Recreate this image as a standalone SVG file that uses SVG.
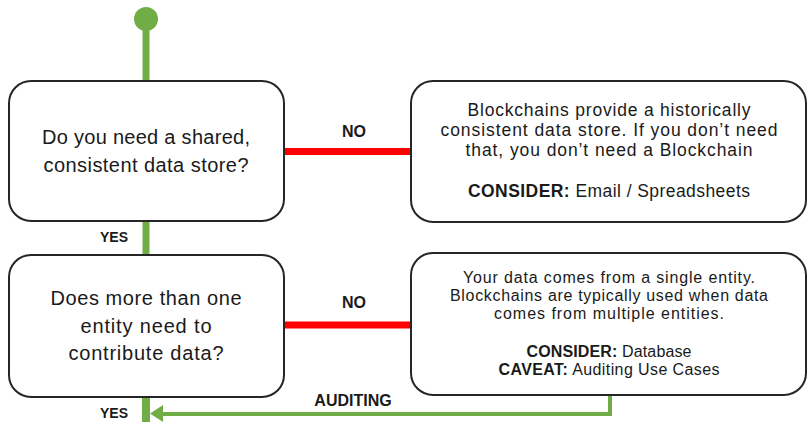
<svg xmlns="http://www.w3.org/2000/svg" width="807" height="422" viewBox="0 0 807 422">
<style>
text{font-family:"Liberation Sans",Arial,sans-serif;fill:#1a1a1a;text-anchor:middle}
.box{fill:#fff;stroke:#262626;stroke-width:2}
.q{font-size:20px}
.a1{font-size:17.5px}
.a2{font-size:16px}
.lbl{font-size:16px;font-weight:bold}
.b{font-weight:bold}
.g{stroke:#70AD47;fill:none}
.r{stroke:#FF0000;stroke-width:7;fill:none}
</style>
<g id="connectors">
<circle cx="146" cy="19" r="12" fill="#70AD47"/>
<line class="g" x1="146" y1="19" x2="146" y2="82" stroke-width="7"/>
<line class="g" x1="146" y1="220" x2="146" y2="256" stroke-width="7"/>
<line class="g" x1="146" y1="396" x2="146" y2="422" stroke-width="8"/>
<path class="g" d="M610,395 V414 H162" stroke-width="4"/>
<path d="M150,413.5 L163,405 L163,422 Z" fill="#70AD47"/>
<line class="r" x1="284" y1="151.5" x2="411" y2="151.5"/>
<line class="r" x1="284" y1="325" x2="411" y2="325"/>
<text class="lbl" x="354" y="137">NO</text>
<text class="lbl" x="354" y="308">NO</text>
<text class="lbl" x="114" y="242" style="font-size:14px">YES</text>
<text class="lbl" x="114" y="418" style="font-size:14px">YES</text>
<text class="lbl" x="353" y="406">AUDITING</text>
</g>
<g id="q1">
<rect class="box" x="9" y="81" width="275" height="140" rx="22"/>
<text class="q" x="146" y="144" textLength="208" lengthAdjust="spacing">Do you need a shared,</text>
<text class="q" x="146" y="172" textLength="205" lengthAdjust="spacing">consistent data store?</text>
</g>
<g id="q2">
<rect class="box" x="9" y="255" width="275" height="142" rx="22"/>
<text class="q" x="146" y="305" textLength="191" lengthAdjust="spacing">Does more than one</text>
<text class="q" x="146" y="333" textLength="131" lengthAdjust="spacing">entity need to</text>
<text class="q" x="146" y="360" textLength="155" lengthAdjust="spacing">contribute data?</text>
</g>
<g id="a1">
<rect class="box" x="411" y="81" width="395" height="141" rx="22"/>
<text class="a1" x="609" y="116" textLength="283" lengthAdjust="spacing">Blockchains provide a historically</text>
<text class="a1" x="609" y="136" textLength="337" lengthAdjust="spacing">consistent data store. If you don’t need</text>
<text class="a1" x="609" y="156" textLength="287" lengthAdjust="spacing">that, you don’t need a Blockchain</text>
<text class="a1" x="609" y="197" textLength="282" lengthAdjust="spacing"><tspan class="b">CONSIDER:</tspan> Email / Spreadsheets</text>
</g>
<g id="a2">
<rect class="box" x="411" y="253" width="395" height="142" rx="22"/>
<text class="a2" x="609" y="283" textLength="292" lengthAdjust="spacing">Your data comes from a single entity.</text>
<text class="a2" x="609" y="301" textLength="318" lengthAdjust="spacing">Blockchains are typically used when data</text>
<text class="a2" x="609" y="319" textLength="230" lengthAdjust="spacing">comes from multiple entities.</text>
<text class="a2" x="609" y="357" textLength="165" lengthAdjust="spacing"><tspan class="b">CONSIDER:</tspan> Database</text>
<text class="a2" x="609" y="375" textLength="221" lengthAdjust="spacing"><tspan class="b">CAVEAT:</tspan> Auditing Use Cases</text>
</g>
</svg>
